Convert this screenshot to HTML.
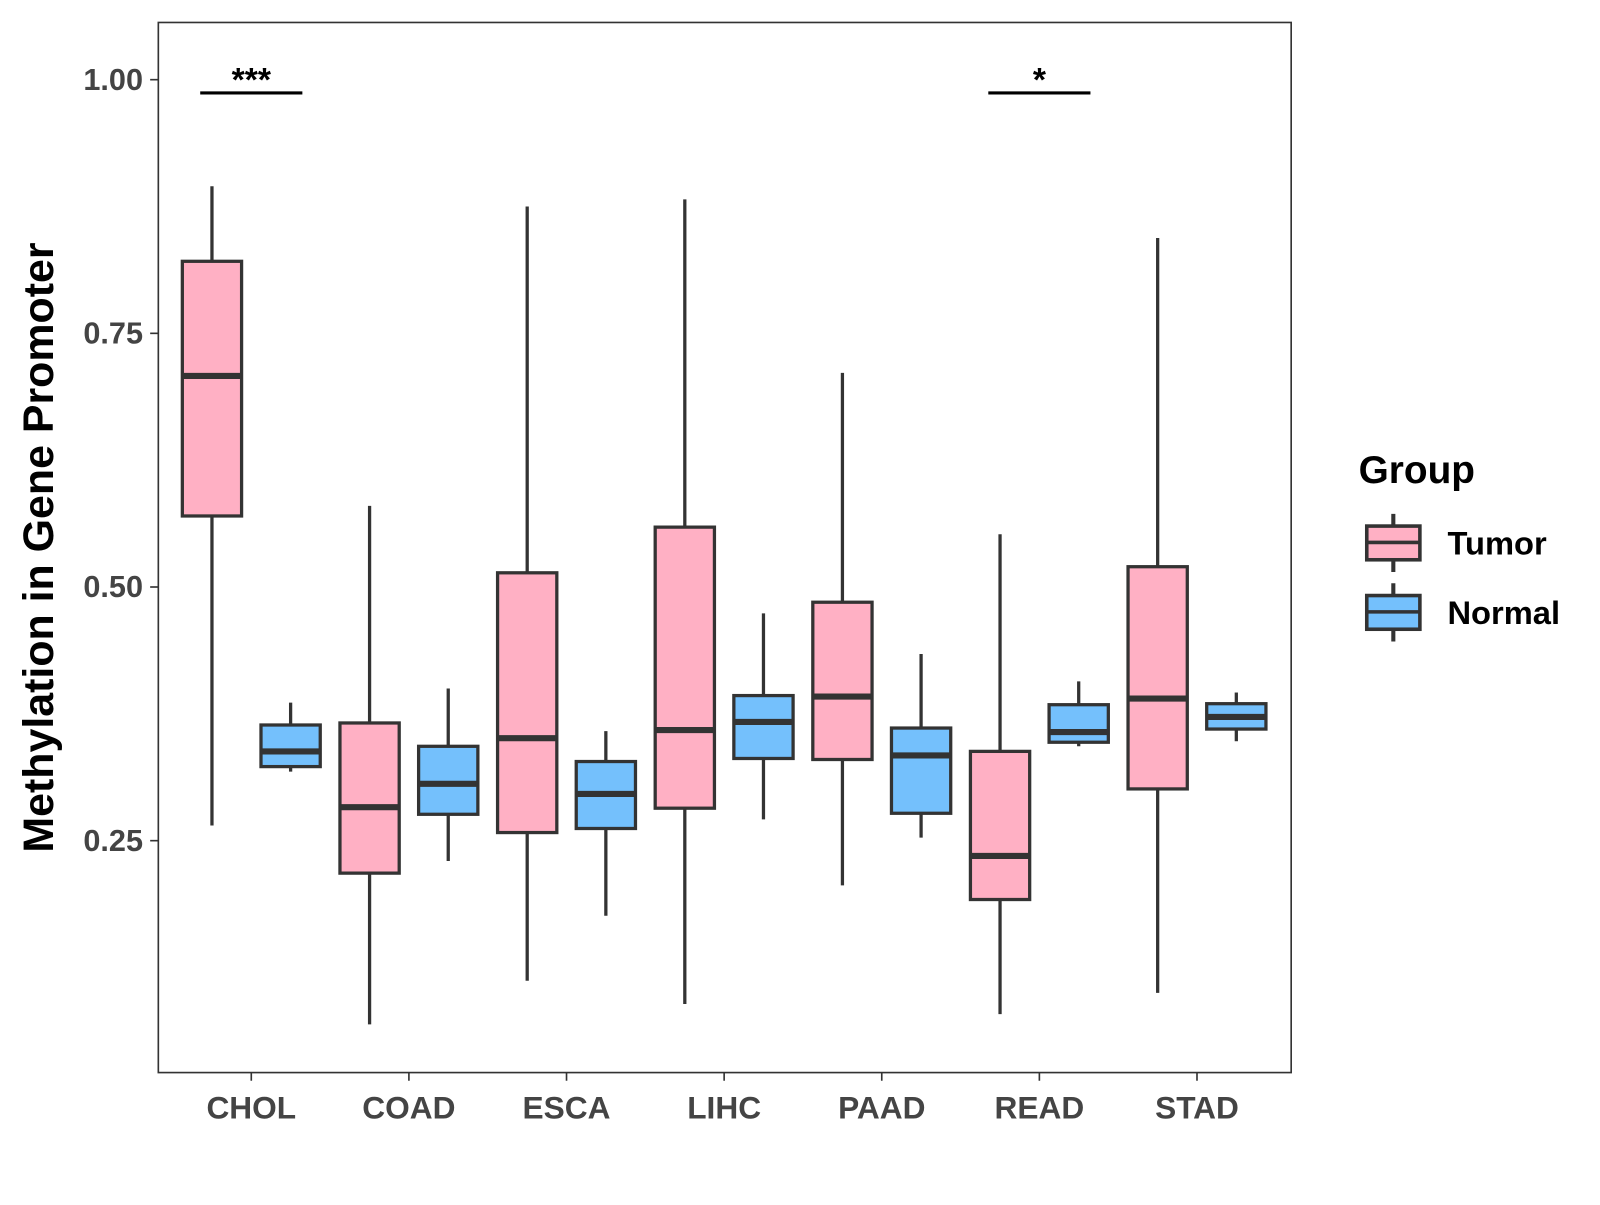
<!DOCTYPE html>
<html><head><meta charset="utf-8"><style>
html,body{margin:0;padding:0;background:#fff;}
svg text{font-family:"Liberation Sans",Arial,sans-serif;font-weight:bold;}
</style></head><body>
<svg id="chart" width="1600" height="1200" viewBox="0 0 1600 1200" xmlns="http://www.w3.org/2000/svg">
<rect x="0" y="0" width="1600" height="1200" fill="#fff"/>
<g transform="scale(1.0215)">
<g id="marks"></g>
<rect x="155" y="22" width="1109" height="1028" fill="none" stroke="#333" stroke-width="1.6"/>
<g id="axes"></g>
<text x="52" y="536" font-size="42" fill="#000" text-anchor="middle" transform="rotate(-90 52 536)">Methylation in Gene Promoter</text>
<g>
<text x="1330" y="473" font-size="38" fill="#000">Group</text>
<g>
<line x1="1364" y1="503" x2="1364" y2="560" stroke="#333" stroke-width="4"/>
<rect x="1338" y="515" width="52" height="33" fill="#FFB0C4" stroke="#333" stroke-width="3.5"/>
<line x1="1338" y1="531" x2="1390" y2="531" stroke="#333" stroke-width="3.5"/>
<text x="1417" y="543" font-size="32" fill="#000">Tumor</text>
</g>
<g>
<line x1="1364" y1="571" x2="1364" y2="628" stroke="#333" stroke-width="4"/>
<rect x="1338" y="583" width="52" height="33" fill="#74C0FC" stroke="#333" stroke-width="3.5"/>
<line x1="1338" y1="599" x2="1390" y2="599" stroke="#333" stroke-width="3.5"/>
<text x="1417" y="611" font-size="32" fill="#000">Normal</text>
</g>
</g>
</g>
</svg>
<script>
const categories = ["CHOL","COAD","ESCA","LIHC","PAAD","READ","STAD"];
// [whiskerLow, q1, median, q3, whiskerHigh]
const tumorStats = [
 [0.265,0.570,0.708,0.821,0.895],
 [0.069,0.218,0.283,0.366,0.580],
 [0.112,0.258,0.351,0.514,0.875],
 [0.089,0.282,0.359,0.559,0.882],
 [0.206,0.330,0.392,0.485,0.711],
 [0.079,0.192,0.235,0.338,0.552],
 [0.100,0.301,0.390,0.520,0.844]
];
const normalStats = [
 [0.318,0.323,0.338,0.364,0.386],
 [0.230,0.276,0.306,0.343,0.400],
 [0.176,0.262,0.296,0.328,0.358],
 [0.271,0.331,0.367,0.393,0.474],
 [0.253,0.277,0.334,0.361,0.434],
 [0.343,0.347,0.357,0.384,0.407],
 [0.348,0.360,0.372,0.385,0.396]
];
const yTicks = [0.25,0.50,0.75,1.00];
const yTickLabels = ["0.25","0.50","0.75","1.00"];
const sigCategories = ["CHOL","READ"];
const sigLabels = ["***","*"];

const NS="http://www.w3.org/2000/svg";
function yScale(v){return 78+(1-v)*993.3;}
function xScale(i){return 246+i*154.3;}
function mk(tag,attrs,parent){const e=document.createElementNS(NS,tag);for(const k in attrs)e.setAttribute(k,attrs[k]);parent.appendChild(e);return e;}
const marks=document.getElementById('marks');
const axes=document.getElementById('axes');
function drawBox(s,cx,fill,name){
  const g=mk('g',{},marks);
  
  
  const w=58;
  mk('line',{x1:cx,x2:cx,y1:yScale(s[4]),y2:yScale(s[0]),stroke:'#333','stroke-width':3.2},g);
  mk('rect',{x:cx-w/2,y:yScale(s[3]),width:w,height:yScale(s[1])-yScale(s[3]),fill:fill,stroke:'#333','stroke-width':3.2},g);
  mk('line',{x1:cx-w/2,x2:cx+w/2,y1:yScale(s[2]),y2:yScale(s[2]),stroke:'#333','stroke-width':6},g);
}
categories.forEach((c,i)=>{
  const cx=xScale(i);
  drawBox(tumorStats[i],cx-38.5,'#FFB0C4','box-tumor-'+c.toLowerCase());
  drawBox(normalStats[i],cx+38.5,'#74C0FC','box-normal-'+c.toLowerCase());
  const t=mk('line',{x1:cx,x2:cx,y1:1050,y2:1058,stroke:'#333','stroke-width':1.6},axes);
  
  
  const l=mk('text',{x:cx,y:1095,'font-size':31,fill:'#444','text-anchor':'middle'},axes);
  l.textContent=c;
  
  
});
yTicks.forEach((v,i)=>{
  const y=yScale(v);
  const t=mk('line',{x1:147,x2:155,y1:y,y2:y,stroke:'#333','stroke-width':1.6},axes);
  
  
  const l=mk('text',{x:140,y:y+10,'font-size':30,fill:'#444','text-anchor':'end'},axes);
  l.textContent=yTickLabels[i];
  
  
});
sigCategories.forEach((c,k)=>{
  const i=categories.indexOf(c);
  const cx=xScale(i);
  const g=mk('g',{},marks);
  
  
  mk('line',{x1:cx-50,x2:cx+50,y1:91,y2:91,stroke:'#000','stroke-width':3},g);
  const t=mk('text',{x:cx,y:89,'font-size':33,fill:'#000','text-anchor':'middle'},g);
  t.textContent=sigLabels[k];
});
</script>
</body></html>
